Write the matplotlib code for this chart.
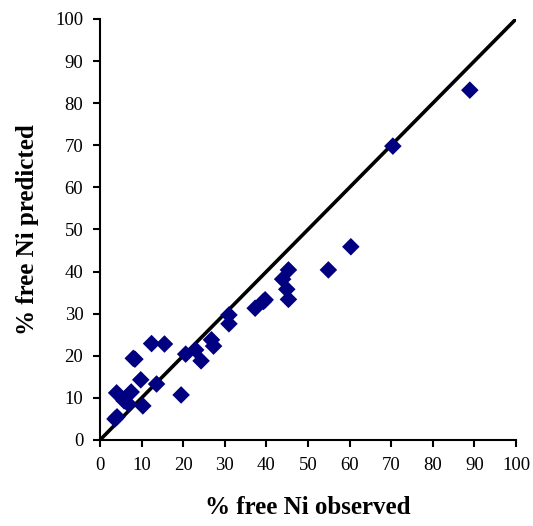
import matplotlib
matplotlib.use("Agg")
import matplotlib.pyplot as plt

# % free Ni observed vs predicted
observed = [3.6, 4.1, 4.0, 5.8, 6.8, 7.5, 8.0, 8.4, 9.8, 10.3, 12.4, 15.5, 13.6,
            19.5, 20.6, 23.0, 24.3, 26.8, 27.3, 31.0, 31.0, 37.3, 39.3, 39.7,
            45.3, 43.9, 44.9, 45.3, 54.9, 60.3, 70.4, 88.9]
predicted = [5.0, 5.5, 11.2, 9.3, 8.6, 11.4, 19.4, 19.2, 14.3, 8.1, 22.9, 22.8, 13.3,
             10.7, 20.4, 21.4, 18.8, 23.8, 22.3, 29.7, 27.6, 31.3, 32.9, 33.3,
             40.4, 38.2, 35.8, 33.4, 40.4, 45.9, 69.8, 83.1]
one_to_one = [0, 100]
ticks = list(range(0, 101, 10))

plt.rcParams['font.family'] = ['Liberation Serif', 'DejaVu Serif']

fig = plt.figure(figsize=(5.33, 5.26), dpi=100)
ax = fig.add_axes([0.1876, 0.1635, 0.7805, 0.8004])

ax.plot(one_to_one, one_to_one, color='black', linewidth=2.6, zorder=2)
ax.scatter(observed, predicted, marker='D', s=80, color='#000080',
           edgecolors='none', zorder=3)

ax.set_xlim(0, 100)
ax.set_ylim(0, 100)
ax.set_xticks(ticks)
ax.set_yticks(ticks)
ax.spines['top'].set_visible(False)
ax.spines['right'].set_visible(False)
for s in ('left', 'bottom'):
    ax.spines[s].set_linewidth(1.5)
ax.tick_params(direction='out', length=5, width=1.5, labelsize=13.5, pad=7)

ax.set_xlabel('% free Ni observed', fontsize=18, fontweight='bold', labelpad=16)
ax.set_ylabel('% free Ni predicted', fontsize=18, fontweight='bold', labelpad=12)

fig.savefig('out.png', dpi=100)
